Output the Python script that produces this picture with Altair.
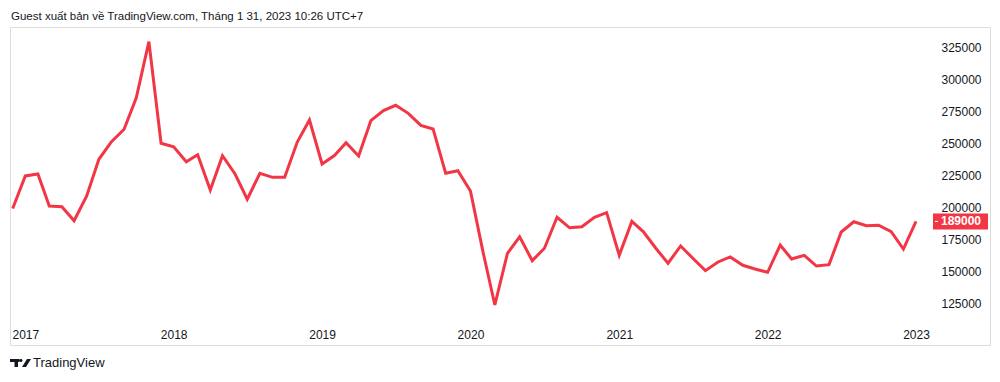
import altair as alt
import pandas as pd

FONT = "Liberation Sans"
RED = "#f23645"
TXT = "#131722"

TITLE = "Guest xuất bản về TradingView.com, Tháng 1 31, 2023 10:26 UTC+7"

# monthly closes, Dec 2016 .. Jan 2023
months = pd.date_range("2016-12-01", periods=74, freq="MS").strftime("%Y-%m-%d").tolist()
values = [
    199000, 224500, 226000, 201000, 200500, 189500, 208800, 237500, 251300, 261000,
    285600, 329400, 250000, 247300, 235600, 241100, 213500, 240300, 226000, 206300,
    226600, 223400, 223400, 251000, 268200, 233800, 240600, 250500, 240100, 267700,
    275500, 279700, 273400, 264000, 261200, 226600, 228600, 212700, 165000, 123700,
    164000, 177000, 158300, 168000, 192200, 184000, 184800, 192200, 195800, 162500,
    189000, 181000, 168000, 156300, 169800, 160200, 150500, 157300, 161200, 154700,
    151800, 149200, 170500, 159600, 162500, 154100, 155200, 180700, 188700, 185600,
    186000, 181000, 167400, 189000,
]
last_price = [189000]
price_ticks = [125000, 150000, 175000, 200000, 225000, 250000, 275000, 300000, 325000]
year_ticks = [2017, 2018, 2019, 2020, 2021, 2022, 2023]

df = pd.DataFrame({"date": months, "price": values})
last_df = pd.DataFrame({"price": last_price, "label": [str(v) for v in last_price]})

W, H = 980, 318

def ms(ts):
    return int(pd.Timestamp(ts, tz="UTC").value // 10**6)

x_domain = [ms("2016-11-24 08:40"), ms("2023-07-02")]
y_domain = [92422, 340859]

xs = alt.Scale(type="utc", domain=x_domain)
ys = alt.Scale(domain=y_domain, nice=False, zero=False)

y_axis = alt.Axis(
    orient="right",
    values=price_ticks,
    format="d",
    ticks=False,
    domain=False,
    grid=False,
    labelPadding=0,
    offset=-9,
    labelAlign="right",
    labelBaseline="middle",
    labelFont=FONT,
    labelFontSize=12,
    labelColor=TXT,
    labelOverlap=False,
    labelSeparation=0,
)
Y = alt.Y("price:Q", scale=ys, title=None, axis=y_axis)

line = alt.Chart(df).mark_line(color=RED, strokeWidth=3, clip=True).encode(
    x=alt.X(
        "date:T",
        scale=xs,
        title=None,
        axis=alt.Axis(
            values=[alt.DateTime(year=y, month=1, date=1, utc=True) for y in year_ticks],
            format="%Y",
            ticks=False,
            domain=False,
            grid=False,
            labelPadding=0,
            offset=-11,
            labelBaseline="middle",
            labelFont=FONT,
            labelFontSize=12,
            labelColor=TXT,
            labelAngle=0,
            labelOverlap=False,
        ),
    ),
    y=Y,
)

box = alt.Chart(last_df).mark_rule(color=RED, strokeWidth=16, strokeCap="butt").encode(
    y=Y,
    x=alt.value(923),
    x2=alt.value(978),
)
dash = alt.Chart(last_df).mark_rule(color="white", strokeWidth=1).encode(
    y=Y,
    x=alt.value(925),
    x2=alt.value(928),
)
box_text = alt.Chart(last_df).mark_text(
    color="white", font=FONT, fontSize=12, fontWeight="bold", align="right", baseline="middle"
).encode(
    y=Y,
    x=alt.value(971),
    text="label:N",
)

logo_path = (
    "M-1.05,-0.4 H-0.1 V-0.1 H-0.25 V0.4 H-0.6 V-0.1 H-1.05 Z "
    "M-0.1,-0.25 A0.15,0.15 0 1,0 0.2,-0.25 A0.15,0.15 0 1,0 -0.1,-0.25 Z "
    "M0.15,0.4 H0.55 L1.05,-0.4 H0.65 Z"
)
footer = pd.DataFrame({"t": ["TradingView"]})
logo = alt.Chart(footer).mark_point(
    shape=logo_path, filled=True, color=TXT, size=400, opacity=1, strokeWidth=0
).encode(x=alt.value(10.5), y=alt.value(336))
logo_text = alt.Chart(footer).mark_text(
    font=FONT, fontSize=13, color=TXT, align="left", baseline="middle"
).encode(x=alt.value(23), y=alt.value(336), text="t:N")

chart = (
    alt.layer(line, box, dash, box_text, logo, logo_text)
    .properties(
        width=W,
        height=H,
        autosize=alt.AutoSizeParams(type="none"),
        padding={"left": 2, "top": 19, "right": 2, "bottom": 29},
        title=alt.TitleParams(
            text=TITLE,
            anchor="start",
            font=FONT,
            fontSize=11.5,
            fontWeight="normal",
            color=TXT,
            offset=5,
            dx=1,
        ),
    )
    .configure_view(stroke="#ebebf0", strokeWidth=2)
    .configure_axis(labelOverlap=False)
    .configure(background="white")
)

chart.save("out.html", embed_options={"renderer": "svg", "actions": False})
